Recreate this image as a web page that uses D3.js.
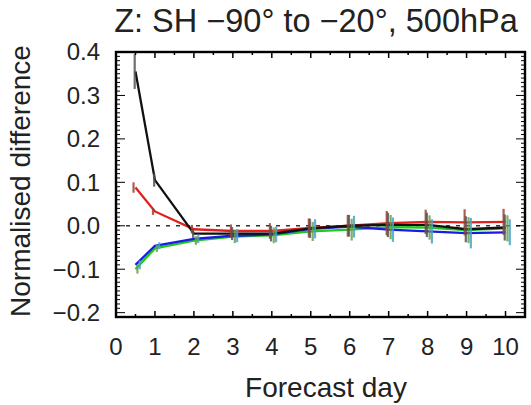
<!DOCTYPE html>
<html><head><meta charset="utf-8">
<script src="https://cdn.jsdelivr.net/npm/d3@7"></script>
<style>
html,body{margin:0;padding:0;background:#fff;}
svg{display:block;font-family:"Liberation Sans",Arial,Helvetica,sans-serif;}
</style></head>
<body>
<svg id="chart" width="531" height="405"></svg>
<script>
const days = [0.5, 1, 2, 3, 4, 5, 6, 7, 8, 9, 10];
const blackVals = [0.355, 0.105, -0.018, -0.018, -0.018, -0.006, 0.0, 0.002, 0.002, -0.008, -0.004];
const redVals   = [0.088, 0.033, -0.008, -0.012, -0.012, -0.005, 0.0, 0.006, 0.009, 0.008, 0.009];
const greenVals = [-0.100, -0.052, -0.034, -0.025, -0.022, -0.013, -0.009, -0.003, -0.004, -0.010, -0.006];
const blueVals  = [-0.090, -0.046, -0.030, -0.023, -0.020, -0.007, -0.002, -0.009, -0.013, -0.017, -0.015];
const blackErr = [0.040, 0.015, 0.010, 0.015, 0.018, 0.022, 0.025, 0.028, 0.028, 0.030, 0.030];
const redErr   = [0.012, 0.008, 0.010, 0.015, 0.018, 0.022, 0.025, 0.028, 0.028, 0.030, 0.030];
const greenErr = [0.010, 0.008, 0.010, 0.015, 0.018, 0.022, 0.025, 0.028, 0.028, 0.030, 0.030];
const blueErr  = [0.010, 0.008, 0.010, 0.015, 0.018, 0.022, 0.025, 0.028, 0.028, 0.035, 0.030];
const xTickLabels = ["0","1","2","3","4","5","6","7","8","9","10"];
const yTickLabels = ["\u22120.2","\u22120.1","0.0","0.1","0.2","0.3","0.4"];
const yTickValues = [-0.2,-0.1,0,0.1,0.2,0.3,0.4];
const titleText = "Z: SH \u221290\u00b0 to \u221220\u00b0, 500hPa";
const xTitle = "Forecast day";
const yTitle = "Normalised difference";

const L = 116, R = 525, T = 52, B = 317;
const x = d3.scaleLinear().domain([0, 10.5]).range([L, R]);
const y = d3.scaleLinear().domain([-0.21, 0.4]).range([B, T]);
const svg = d3.select("#chart");

// zero dashed line
svg.append("line").attr("x1", L).attr("x2", R).attr("y1", y(0)).attr("y2", y(0))
  .attr("stroke", "#333").attr("stroke-width", 1.6).attr("stroke-dasharray", "4,6");

const series = [
  {vals: greenVals, err: greenErr, color: "#1ec81e", ebar: "#6aa04a", off: 0.05},
  {vals: blueVals, err: blueErr, color: "#1a1ae6", ebar: "#4aa3c8", off: 0.11},
  {vals: redVals, err: redErr, color: "#e0201e", ebar: "#a04030", off: -0.05},
  {vals: blackVals, err: blackErr, color: "#111", ebar: "#555", off: -0.02}
];

const line = d3.line().x(d => x(d[0])).y(d => y(d[1]));
series.forEach(s => {
  const pts = days.map((d, i) => [d, s.vals[i]]);
  svg.append("path").datum(pts).attr("d", line)
    .attr("fill", "none").attr("stroke", s.color).attr("stroke-width", 2.3);
});
series.forEach(s => {
  svg.append("g").selectAll("line").data(days).join("line")
    .attr("x1", (d) => x(d + s.off)).attr("x2", (d) => x(d + s.off))
    .attr("y1", (d, i) => y(s.vals[i] - s.err[i]))
    .attr("y2", (d, i) => y(s.vals[i] + s.err[i]))
    .attr("stroke", s.ebar).attr("stroke-width", 2.2).attr("opacity", 0.85);
});

// frame
svg.append("rect").attr("x", L).attr("y", T).attr("width", R - L).attr("height", B - T)
  .attr("fill", "none").attr("stroke", "#000").attr("stroke-width", 2.4);

// y ticks left/right (inward)
const yMinor = d3.range(-20, 41).map(v => v / 100);
const ax = svg.append("g").attr("stroke", "#000").attr("stroke-width", 1);
yMinor.forEach(v => {
  const major = Math.abs(Math.round(v * 10) - v * 10) < 1e-6;
  const len = major ? 9 : 4;
  ax.append("line").attr("x1", L).attr("x2", L + len).attr("y1", y(v)).attr("y2", y(v));
  ax.append("line").attr("x1", R).attr("x2", R - len).attr("y1", y(v)).attr("y2", y(v));
});
// x ticks bottom/top (inward)
d3.range(0, 21).map(v => v / 2).forEach(v => {
  const major = Number.isInteger(v);
  const len = major ? 6 : 3;
  ax.append("line").attr("x1", x(v)).attr("x2", x(v)).attr("y1", B).attr("y2", B - len).attr("stroke-width", 1.5);
  ax.append("line").attr("x1", x(v)).attr("x2", x(v)).attr("y1", T).attr("y2", T + len).attr("stroke-width", 1.5);
});

// tick labels
svg.append("g").selectAll("text").data(yTickValues).join("text")
  .attr("x", L - 16).attr("y", d => y(d)).attr("dy", "0.35em")
  .attr("text-anchor", "end").attr("font-size", 24).attr("fill", "#222")
  .text((d, i) => yTickLabels[i]);
svg.append("g").selectAll("text").data(xTickLabels).join("text")
  .attr("x", (d, i) => x(i)).attr("y", 355)
  .attr("text-anchor", "middle").attr("font-size", 24).attr("fill", "#222")
  .text(d => d);

// titles
svg.append("text").attr("x", 316).attr("y", 32).attr("text-anchor", "middle")
  .attr("font-size", 32.5).attr("fill", "#222").text(titleText);
svg.append("text").attr("x", 326).attr("y", 397).attr("text-anchor", "middle")
  .attr("font-size", 28).attr("fill", "#222").text(xTitle);
svg.append("text").attr("transform", "translate(30,181) rotate(-90)").attr("text-anchor", "middle")
  .attr("font-size", 28).attr("fill", "#222").text(yTitle);
</script>
</body></html>
